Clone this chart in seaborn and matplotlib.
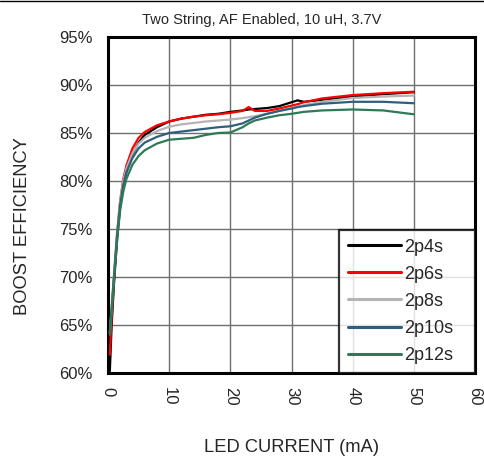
import matplotlib
matplotlib.use("Agg")
import matplotlib.pyplot as plt
from matplotlib.lines import Line2D
import numpy as np
import pandas as pd
import seaborn as sns

# LED current (mA), shared by all series
current = [0.3, 0.6, 1.0, 1.5, 2.0, 2.5, 3.0, 4.0, 5.0, 6.0, 8.0, 10, 12, 14, 16,
           18, 20, 22, 23, 24, 26, 28, 30, 31, 32, 35, 40, 45, 50]

# boost efficiency (%)
eff_2p4s = [60.2, 65.0, 69.5, 74.0, 77.5, 79.6, 80.9, 82.8, 84.0, 84.8, 85.6, 86.2, 86.5,
            86.7, 86.9, 87.0, 87.2, 87.35, 87.45, 87.5, 87.6, 87.8, 88.2, 88.4, 88.25,
            88.45, 88.8, 89.05, 89.25]
eff_2p6s = [61.9, 65.8, 70.0, 74.5, 78.0, 80.2, 81.6, 83.4, 84.5, 85.1, 85.8, 86.2, 86.5,
            86.7, 86.85, 86.95, 87.1, 87.3, 87.7, 87.3, 87.3, 87.55, 87.85, 88.0, 88.2,
            88.6, 88.95, 89.15, 89.3]
eff_2p8s = [64.2, 67.0, 70.5, 74.8, 78.0, 80.0, 81.3, 82.9, 83.9, 84.5, 85.2, 85.65, 85.9,
            86.05, 86.2, 86.3, 86.4, 86.55, 86.65, 86.75, 87.0, 87.3, 87.6, 87.75, 87.9,
            88.25, 88.65, 88.8, 88.9]
eff_2p10s = [64.0, 66.8, 70.2, 74.5, 77.6, 79.6, 80.9, 82.4, 83.4, 84.0, 84.6, 85.0, 85.15,
             85.3, 85.45, 85.6, 85.7, 86.0, 86.3, 86.6, 87.0, 87.3, 87.55, 87.7, 87.8,
             88.05, 88.25, 88.25, 88.1]
eff_2p12s = [64.0, 66.5, 70.0, 74.0, 77.0, 78.9, 80.2, 81.7, 82.6, 83.2, 83.9, 84.3, 84.4,
             84.5, 84.8, 85.0, 85.05, 85.6, 86.0, 86.3, 86.6, 86.85, 87.0, 87.1, 87.2,
             87.35, 87.45, 87.35, 86.95]

series = ["2p4s", "2p6s", "2p8s", "2p10s", "2p12s"]
colors = ["#000000", "#ff0000", "#b4b4b4", "#2f5f7c", "#2d7a55"]
yticks = [60, 65, 70, 75, 80, 85, 90, 95]
xticks = [0, 10, 20, 30, 40, 50, 60]

frames = []
for name, vals in zip(series, [eff_2p4s, eff_2p6s, eff_2p8s, eff_2p10s, eff_2p12s]):
    frames.append(pd.DataFrame({"current": current, "eff": vals, "series": name}))
df = pd.concat(frames, ignore_index=True)

sns.set_style("white")
plt.rcParams["font.family"] = ["Liberation Sans", "DejaVu Sans"]

fig = plt.figure(figsize=(4.85, 4.70), dpi=100)
ax = fig.add_axes([108 / 485, 1 - 373 / 470, 367 / 485, 336 / 470])

sns.lineplot(data=df, x="current", y="eff", hue="series", hue_order=series,
             palette=dict(zip(series, colors)), linewidth=1.6, ax=ax, zorder=3)

ax.set_xlim(0, 60)
ax.set_ylim(60, 95)
ax.set_xticks(xticks)
ax.set_yticks(yticks)
ax.set_yticklabels([f"{v}%" for v in yticks], fontsize=12)
ax.set_xticklabels([str(v) for v in xticks], fontsize=12, rotation=-90)
ax.tick_params(axis="both", length=0)
ax.tick_params(axis="y", pad=11)
ax.tick_params(axis="x", pad=10)
ax.grid(True, color="#6e6e6e", linewidth=1.0, zorder=0)
for s in ax.spines.values():
    s.set_visible(True)
    s.set_color("black")
    s.set_linewidth(2.2)

ax.set_xlabel("LED CURRENT (mA)", fontsize=13.2, labelpad=24)
ax.set_ylabel("BOOST EFFICIENCY", fontsize=13.2)
ax.yaxis.set_label_coords(31 / 485, 1 - 226 / 470, transform=fig.transFigure)
fig.text(262 / 485, 1 - 20 / 470, "Two String, AF Enabled, 10 uH, 3.7V",
         fontsize=10.5, ha="center", va="center")

# legend box stretched to the reference width, sitting in the lower right corner
leg = ax.legend(loc="lower right", bbox_to_anchor=(0.63, 0, 0.37, 0.5), mode="expand",
                fontsize=13, frameon=True, fancybox=False, borderaxespad=0,
                handlelength=2.9, handletextpad=0.2, labelspacing=0.56, borderpad=0.5)
leg.get_frame().set_edgecolor("black")
leg.get_frame().set_linewidth(1.6)
for h in leg.get_lines():
    h.set_linewidth(2.2)

fig.add_artist(Line2D([0, 1], [1 - 1 / 470, 1 - 1 / 470], color="black", linewidth=1))

fig.savefig("out.png", dpi=100)
